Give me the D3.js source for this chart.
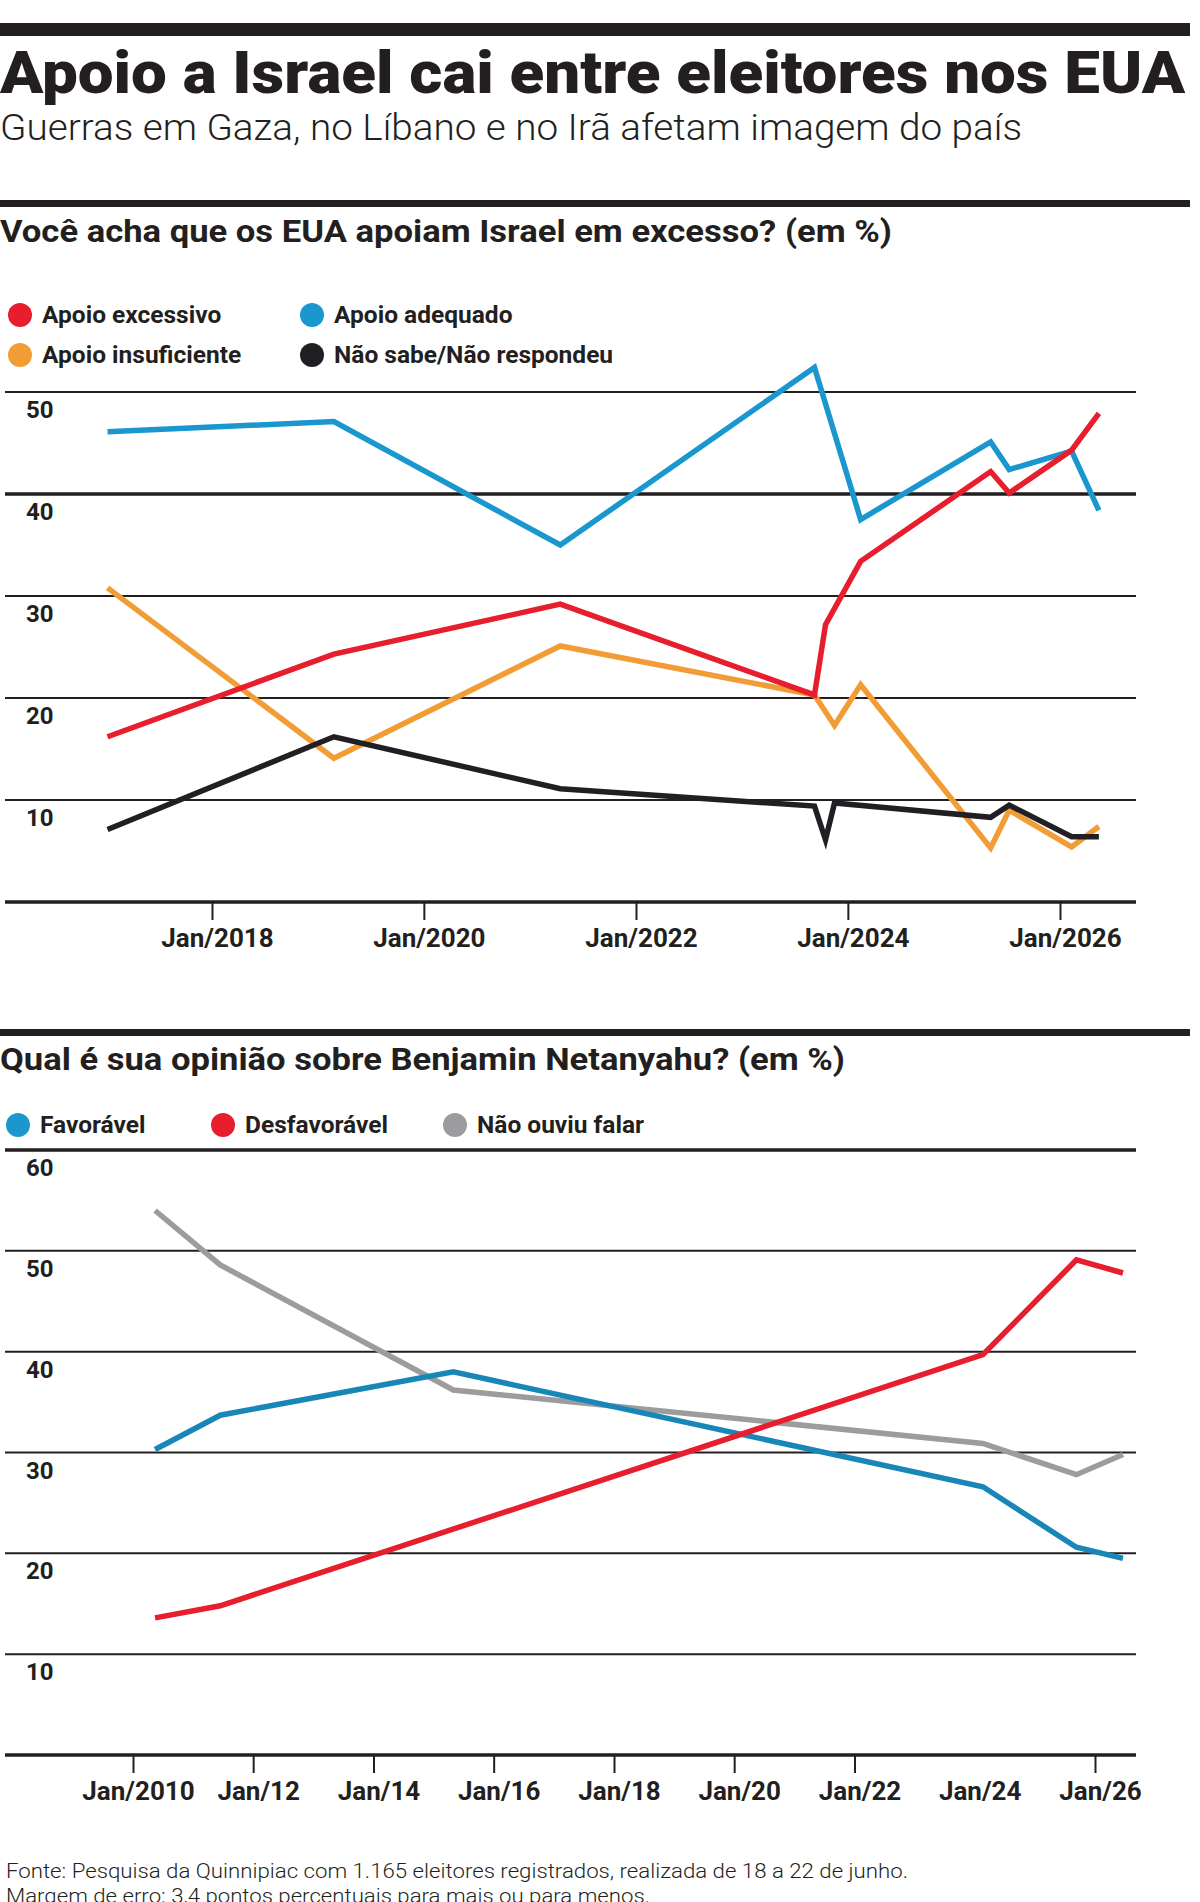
<!DOCTYPE html>
<html>
<head>
<meta charset="utf-8">
<script src="https://cdn.jsdelivr.net/npm/d3@7"></script>
<style>
body { margin: 0; background: #fff; }
text { font-family: Roboto, "Liberation Sans", sans-serif; fill: #231f20; }
</style>
</head>
<body>
<div id="chart"></div>
<script>
// chart 1 - "Você acha que os EUA apoiam Israel em excesso?"
var excessivoDates = ["2017-01-06","2019-02-25","2021-04-15","2023-09-08","2023-10-16","2024-02-14","2025-05-07","2025-07-10","2026-02-10","2026-05-15"];
var excessivoValues = [16.2, 24.3, 29.2, 20.3, 27.2, 33.4, 42.2, 40.1, 44.3, 47.9];
var adequadoDates = ["2017-01-06","2019-02-25","2021-04-15","2023-09-08","2024-02-14","2025-05-07","2025-07-10","2026-02-10","2026-05-15"];
var adequadoValues = [46.1, 47.1, 35.0, 52.4, 37.5, 45.1, 42.4, 44.2, 38.4];
var insuficienteDates = ["2017-01-06","2019-02-25","2021-04-15","2023-09-08","2023-11-16","2024-02-14","2025-05-07","2025-07-10","2026-02-10","2026-05-15"];
var insuficienteValues = [30.8, 14.1, 25.1, 20.3, 17.3, 21.3, 5.3, 9.0, 5.4, 7.4];
var naoSabeDates = ["2017-01-06","2019-02-25","2021-04-15","2023-09-08","2023-10-16","2023-11-16","2025-05-07","2025-07-10","2026-02-10","2026-05-15"];
var naoSabeValues = [7.1, 16.2, 11.1, 9.4, 6.1, 9.7, 8.3, 9.5, 6.4, 6.4];
var ticks1 = ["2018-01-01","2020-01-01","2022-01-01","2024-01-01","2026-01-01"];
var tickLabels1 = ["Jan/2018","Jan/2020","Jan/2022","Jan/2024","Jan/2026"];
var grid1 = [10, 20, 30, 40, 50];

// chart 2 - Netanyahu
var netDates = ["2010-05-15","2011-06-15","2015-05-01","2024-02-20","2025-09-10","2026-06-20"];
var favoravelValues = [30.3, 33.7, 38.0, 26.6, 20.6, 19.5];
var naoOuviuValues = [54.0, 48.6, 36.2, 30.9, 27.8, 29.8];
var desfavDates = ["2010-05-15","2011-06-15","2024-02-20","2025-09-10","2026-06-20"];
var desfavValues = [13.6, 14.8, 39.7, 49.1, 47.8];
var ticks2 = ["2010-01-01","2012-01-01","2014-01-01","2016-01-01","2018-01-01","2020-01-01","2022-01-01","2024-01-01","2026-01-01"];
var tickLabels2 = ["Jan/2010","Jan/12","Jan/14","Jan/16","Jan/18","Jan/20","Jan/22","Jan/24","Jan/26"];
var grid2 = [10, 20, 30, 40, 50, 60];

var RED = "#e61e2d", BLUE = "#1a97cf", ORANGE = "#f29c35", BLACK = "#221f24", GRAY = "#9c9c9e", BLUE2 = "#1887b8";

var parse = d3.timeParse("%Y-%m-%d");
function pts(dates, values) { return dates.map(function(d, i) { return {date: parse(d), value: values[i]}; }); }

var svg = d3.select("#chart").append("svg").attr("width", 1200).attr("height", 1902);
svg.append("rect").attr("width", 1200).attr("height", 1902).attr("fill", "#fff");

function fit(t, w) { t.attr("textLength", w).attr("lengthAdjust", "spacingAndGlyphs"); return t; }

// header
svg.append("rect").attr("x", 0).attr("y", 23).attr("width", 1190).attr("height", 13).attr("fill", "#231f20");
fit(svg.append("text").attr("x", 0).attr("y", 93).attr("font-size", 60).attr("font-weight", 900).text("Apoio a Israel cai entre eleitores nos EUA"), 1185);
fit(svg.append("text").attr("x", 0).attr("y", 140).attr("font-size", 37).attr("font-weight", 300).text("Guerras em Gaza, no Líbano e no Irã afetam imagem do país"), 1022);

function drawChart(c) {
  var g = svg.append("g");
  g.append("rect").attr("x", 0).attr("y", c.barY).attr("width", 1190).attr("height", 7).attr("fill", "#231f20");
  fit(g.append("text").attr("x", 0).attr("y", c.titleY).attr("font-size", 31).attr("font-weight", 700).text(c.title), c.titleW);

  // legend
  var leg = g.selectAll("g.leg").data(c.legend).join("g").attr("class", "leg")
    .attr("transform", function(d) { return "translate(" + d.x + "," + d.y + ")"; });
  leg.append("circle").attr("cx", 0).attr("cy", 0).attr("r", 12).attr("fill", function(d) { return d.color; });
  leg.append("text").attr("x", 22).attr("y", 8).attr("font-size", 24.5).attr("font-weight", 700).text(function(d) { return d.name; });

  // grid
  g.selectAll("line.grid").data(c.grid).join("line").attr("class", "grid")
    .attr("x1", 5).attr("x2", 1136).attr("y1", function(d) { return c.y(d); }).attr("y2", function(d) { return c.y(d); })
    .attr("stroke", "#231f20").attr("stroke-width", function(d) { return d === c.thick ? 3.5 : 2; });
  g.selectAll("text.ylab").data(c.grid).join("text").attr("class", "ylab")
    .attr("x", 26).attr("y", function(d) { return c.y(d) + 26; })
    .attr("font-size", 24).attr("font-weight", 700).text(function(d) { return d; });

  // x axis
  var ax = g.append("g").attr("transform", "translate(0," + c.y(0) + ")")
    .call(d3.axisBottom(c.x).tickValues(c.ticks.map(parse)).tickSize(18).tickFormat(function(d, i) { return c.tickLabels[i]; }));
  ax.select(".domain").remove();
  ax.append("line").attr("x1", 5).attr("x2", 1136).attr("stroke", "#231f20").attr("stroke-width", 3.5);
  ax.selectAll(".tick line").attr("stroke", "#231f20").attr("stroke-width", 2)
    .attr("display", function(d, i) { return c.skipTick === i ? "none" : null; });
  ax.selectAll(".tick text").attr("y", 45).attr("dy", 0).attr("dx", 5)
    .attr("font-size", 26).attr("font-weight", 700).attr("fill", "#231f20")
    .style("font-family", "Roboto, 'Liberation Sans', sans-serif");

  // lines
  var line = d3.line().x(function(d) { return c.x(d.date); }).y(function(d) { return c.y(d.value); });
  g.selectAll("path.serie").data(c.series).join("path").attr("class", "serie")
    .attr("d", function(d) { return line(d.points); })
    .attr("fill", "none").attr("stroke", function(d) { return d.color; })
    .attr("stroke-width", 5.5).attr("stroke-linejoin", "miter").attr("stroke-miterlimit", 10);
}

drawChart({
  barY: 200, titleY: 242, titleW: 892,
  title: "Você acha que os EUA apoiam Israel em excesso? (em %)",
  legend: [
    {name: "Apoio excessivo", color: RED, x: 20, y: 315},
    {name: "Apoio adequado", color: BLUE, x: 312, y: 315},
    {name: "Apoio insuficiente", color: ORANGE, x: 20, y: 355},
    {name: "Não sabe/Não respondeu", color: BLACK, x: 312, y: 355}
  ],
  x: d3.scaleTime().domain([parse("2018-01-01"), parse("2026-01-01")]).range([212, 1060]),
  y: d3.scaleLinear().domain([0, 50]).range([902, 392]),
  grid: grid1, thick: 40, ticks: ticks1, tickLabels: tickLabels1, skipTick: -1,
  series: [
    {color: BLUE, points: pts(adequadoDates, adequadoValues)},
    {color: ORANGE, points: pts(insuficienteDates, insuficienteValues)},
    {color: BLACK, points: pts(naoSabeDates, naoSabeValues)},
    {color: RED, points: pts(excessivoDates, excessivoValues)}
  ]
});

drawChart({
  barY: 1029, titleY: 1070, titleW: 845,
  title: "Qual é sua opinião sobre Benjamin Netanyahu? (em %)",
  legend: [
    {name: "Favorável", color: BLUE, x: 18, y: 1125},
    {name: "Desfavorável", color: RED, x: 223, y: 1125},
    {name: "Não ouviu falar", color: GRAY, x: 455, y: 1125}
  ],
  x: d3.scaleTime().domain([parse("2010-01-01"), parse("2026-01-01")]).range([133, 1095]),
  y: d3.scaleLinear().domain([0, 60]).range([1755, 1150]),
  grid: grid2, thick: 60, ticks: ticks2, tickLabels: tickLabels2, skipTick: 7,
  series: [
    {color: GRAY, points: pts(netDates, naoOuviuValues)},
    {color: BLUE2, points: pts(netDates, favoravelValues)},
    {color: RED, points: pts(desfavDates, desfavValues)}
  ]
});

// footnote
fit(svg.append("text").attr("x", 6).attr("y", 1878).attr("font-size", 21).attr("font-weight", 300)
  .text("Fonte: Pesquisa da Quinnipiac com 1.165 eleitores registrados, realizada de 18 a 22 de junho."), 902);
fit(svg.append("text").attr("x", 6).attr("y", 1903).attr("font-size", 21).attr("font-weight", 300)
  .text("Margem de erro: 3,4 pontos percentuais para mais ou para menos."), 644);
</script>
</body>
</html>
